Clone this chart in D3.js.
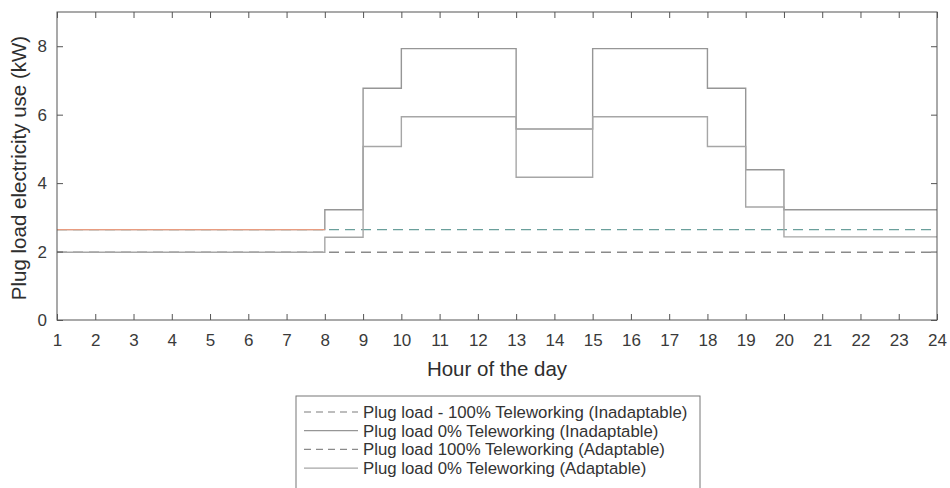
<!DOCTYPE html>
<html>
<head>
<meta charset="utf-8">
<script src="https://cdn.jsdelivr.net/npm/d3@7"></script>
<style>
  body { margin: 0; background: #fff; }
  svg { font-family: "Liberation Sans", Arial, sans-serif; }
</style>
</head>
<body>
<svg id="chart" width="950" height="488"></svg>
<script>
const hours = d3.range(1, 25);
const xTicks = d3.range(1, 25);
const yTicks = [0, 2, 4, 6, 8];

// hourly values (kW), stairs from each hour to the next
const tele100Inadaptable = [2.64, 2.64, 2.64, 2.64, 2.64, 2.64, 2.64, 2.64, 2.64, 2.64, 2.64, 2.64,
  2.64, 2.64, 2.64, 2.64, 2.64, 2.64, 2.64, 2.64, 2.64, 2.64, 2.64, 2.64];
const tele0Inadaptable = [2.64, 2.64, 2.64, 2.64, 2.64, 2.64, 2.64, 3.22, 6.77, 7.93, 7.93, 7.93,
  5.58, 5.58, 7.93, 7.93, 7.93, 6.77, 4.39, 3.22, 3.22, 3.22, 3.22, 3.22];
const tele100Adaptable = [1.98, 1.98, 1.98, 1.98, 1.98, 1.98, 1.98, 1.98, 1.98, 1.98, 1.98, 1.98,
  1.98, 1.98, 1.98, 1.98, 1.98, 1.98, 1.98, 1.98, 1.98, 1.98, 1.98, 1.98];
const tele0Adaptable = [1.98, 1.98, 1.98, 1.98, 1.98, 1.98, 1.98, 2.42, 5.07, 5.94, 5.94, 5.94,
  4.17, 4.17, 5.94, 5.94, 5.94, 5.07, 3.30, 2.43, 2.43, 2.43, 2.43, 2.43];

const legendLabels = [
  "Plug load - 100% Teleworking (Inadaptable)",
  "Plug load 0% Teleworking (Inadaptable)",
  "Plug load 100% Teleworking (Adaptable)",
  "Plug load 0% Teleworking (Adaptable)"
];

const series = [
  { values: tele100Inadaptable, color: "#6a9f9b", dash: "10,6" },
  { values: tele0Inadaptable, color: "#969696", dash: null },
  { values: tele100Adaptable, color: "#8a8a8a", dash: "10,6" },
  { values: tele0Adaptable, color: "#a6a6a6", dash: null }
];

const svg = d3.select("#chart");
const margin = { top: 12, right: 13, bottom: 168, left: 57 };
const width = 950 - margin.left - margin.right;
const height = 488 - margin.top - margin.bottom;

const g = svg.append("g").attr("transform", `translate(${margin.left},${margin.top})`);

const x = d3.scaleLinear().domain([1, 24]).range([0, width]);
const y = d3.scaleLinear().domain([0, 9]).range([height, 0]);

const line = d3.line()
  .x(d => x(d.h))
  .y(d => y(d.v))
  .curve(d3.curveStepAfter);

// lines
series.forEach(s => {
  const pts = hours.map((h, i) => ({ h, v: s.values[i] }));
  g.append("path")
    .datum(pts)
    .attr("fill", "none")
    .attr("stroke", s.color)
    .attr("stroke-width", 1.4)
    .attr("stroke-dasharray", s.dash)
    .attr("d", line);
});

// part of the 0% inadaptable curve lying on the 100% curve (orange in the source)
const overlap = [];
for (let i = 0; i < hours.length - 1; i++) {
  if (tele0Inadaptable[i] === tele100Inadaptable[i]) {
    overlap.push({ h: hours[i], v: tele0Inadaptable[i] });
    if (tele0Inadaptable[i + 1] !== tele100Inadaptable[i + 1]) {
      overlap.push({ h: hours[i + 1], v: tele0Inadaptable[i] });
      break;
    }
  }
}
g.append("path")
  .datum(overlap)
  .attr("fill", "none")
  .attr("stroke", "#e89c80")
  .attr("stroke-width", 1.4)
  .attr("d", line);

// axes box
const axisColor = "#555";
g.append("rect")
  .attr("width", width)
  .attr("height", height)
  .attr("fill", "none")
  .attr("stroke", axisColor)
  .attr("stroke-width", 1);

const xAxis = g.append("g")
  .attr("transform", `translate(0,${height})`)
  .call(d3.axisBottom(x).tickValues(xTicks).tickFormat(d3.format("d")).tickSizeInner(-6).tickSizeOuter(0).tickPadding(14));
const xTop = g.append("g")
  .call(d3.axisTop(x).tickValues(xTicks).tickSizeInner(-6).tickSizeOuter(0).tickFormat(""));
const yAxis = g.append("g")
  .call(d3.axisLeft(y).tickValues(yTicks).tickSizeInner(-6).tickSizeOuter(0).tickPadding(10));
const yRight = g.append("g")
  .attr("transform", `translate(${width},0)`)
  .call(d3.axisRight(y).tickValues(yTicks).tickSizeInner(-6).tickSizeOuter(0).tickFormat(""));

[xAxis, xTop, yAxis, yRight].forEach(a => {
  a.select(".domain").remove();
  a.selectAll("line").attr("stroke", axisColor);
  a.selectAll("text").attr("fill", "#3a3a3a").style("font-size", "17px");
});

// axis titles
svg.append("text")
  .attr("x", margin.left + width / 2)
  .attr("y", 376)
  .attr("text-anchor", "middle")
  .attr("fill", "#2e2e2e")
  .style("font-size", "20.5px")
  .text("Hour of the day");

svg.append("text")
  .attr("transform", `translate(26,${margin.top + height / 2 + 2}) rotate(-90)`)
  .attr("text-anchor", "middle")
  .attr("fill", "#2e2e2e")
  .style("font-size", "20.5px")
  .text("Plug load electricity use (kW)");

// legend
const legend = svg.append("g").attr("transform", "translate(296,396)");
legend.append("rect")
  .attr("width", 404)
  .attr("height", 100)
  .attr("fill", "#fff")
  .attr("stroke", "#777")
  .attr("stroke-width", 1);

legendLabels.forEach((lab, i) => {
  const row = legend.append("g").attr("transform", `translate(0,${16 + i * 18.7})`);
  row.append("line")
    .attr("x1", 8).attr("x2", 62)
    .attr("stroke", i === 0 ? "#a8a8a8" : series[i].color)
    .attr("stroke-width", 1.3)
    .attr("stroke-dasharray", series[i].dash ? "7,5" : null);
  row.append("text")
    .attr("x", 67)
    .attr("y", 6)
    .attr("fill", "#333")
    .style("font-size", "16.8px")
    .text(lab);
});
</script>
</body>
</html>
